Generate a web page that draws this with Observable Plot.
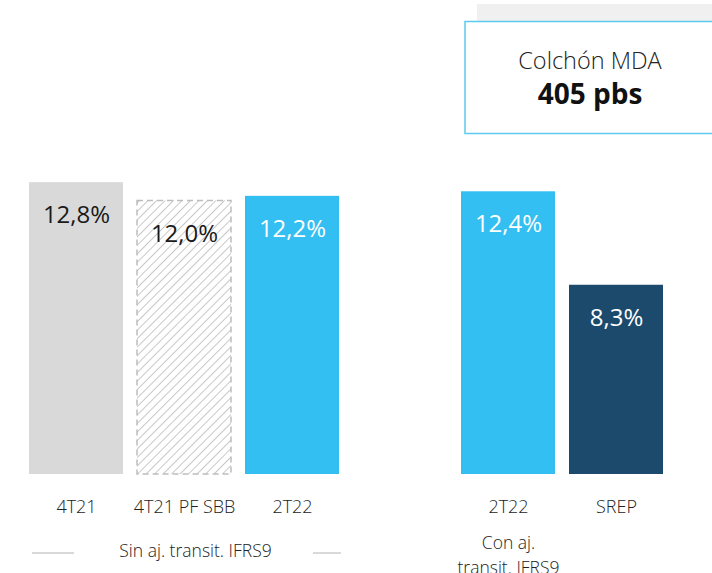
<!DOCTYPE html>
<html>
<head>
<meta charset="utf-8">
<script src="https://cdn.jsdelivr.net/npm/d3@7"></script>
<script src="https://cdn.jsdelivr.net/npm/@observablehq/plot@0.6"></script>
<style>
  body { margin: 0; background: #fff; }
  #chart { position: relative; width: 712px; height: 573px; }
  svg { display: block; }
</style>
</head>
<body>
<div id="chart"></div>
<script>
// ---- data ----
const slots = ["4T21", "4T21 PF SBB", "2T22 sin", "gap", "2T22 con", "SREP"];
const keys = ["4T21", "4T21 PF SBB", "2T22 sin", "2T22 con", "SREP"];
const labels = ["4T21", "4T21 PF SBB", "2T22", "2T22", "SREP"];
const values = [12.8, 12.0, 12.2, 12.4, 8.3];
const valueLabels = ["12,8%", "12,0%", "12,2%", "12,4%", "8,3%"];
const fills = ["#d9d9d9", "url(#hatch)", "#33bff2", "#33bff2", "#1c4a6d"];
const textColors = ["#1a1a1a", "#1a1a1a", "#ffffff", "#ffffff", "#ffffff"];
const textWeights = [400, 400, 600, 600, 600];
const groupSin = "Sin aj. transit. IFRS9";
const groupCon = ["Con aj.", "transit. IFRS9"];
const boxTitle = "Colchón MDA";
const boxValue = "405 pbs";

const data = keys.map((k, i) => ({
  key: k, label: labels[i], value: values[i], vlabel: valueLabels[i],
  fill: fills[i], tcolor: textColors[i], tweight: textWeights[i]
}));

const font = "'Open Sans', 'Noto Sans', sans-serif";

const plot = Plot.plot({
  width: 712,
  height: 573,
  margin: 0,
  style: { fontFamily: font, background: "transparent" },
  x: { domain: slots, range: [27, 666], paddingInner: 0.127, paddingOuter: 0, axis: null },
  y: { domain: [0, 20], range: [474, 18], axis: null },
  marks: [
    Plot.barY(data, { x: "key", y: "value", fill: d => d.fill,
      stroke: d => d.key === "4T21 PF SBB" ? "#bdbdbd" : "none",
      strokeDasharray: "6,4", strokeWidth: 1.5, inset: 0 }),
    Plot.text(data, { x: "key", y: "value", text: "vlabel", dy: 33,
      fill: d => d.tcolor, fontSize: 24, fontWeight: d => d.tweight }),
    Plot.text(data, { x: "key", y: 0, text: "label", dy: 33,
      fill: "#222", fontSize: 18, fontWeight: 300 }),
    Plot.text([groupSin], { x: () => "4T21 PF SBB", y: 0, text: d => d, dy: 77, dx: 11,
      fill: "#222", fontSize: 17.5, fontWeight: 300 }),
    Plot.text([groupCon.join("\n")], { x: () => "2T22 con", y: 0, text: d => d, dy: 79,
      lineHeight: 1.4, fill: "#222", fontSize: 17.5, fontWeight: 300 })
  ]
});

// pattern for hatched bar
const svg = d3.select(plot);
const defs = svg.insert("defs", ":first-child");
const pat = defs.append("pattern").attr("id", "hatch").attr("patternUnits", "userSpaceOnUse")
  .attr("width", 6).attr("height", 6).attr("patternTransform", "rotate(45)");
pat.append("rect").attr("width", 6).attr("height", 6).attr("fill", "#ffffff");
pat.append("line").attr("x1", 0).attr("y1", 0).attr("x2", 0).attr("y2", 6)
  .attr("stroke", "#c8c8c8").attr("stroke-width", 2);

// group separator lines
const g = svg.append("g").attr("stroke", "#d9d9d9").attr("stroke-width", 2);
g.append("line").attr("x1", 32).attr("x2", 74).attr("y1", 553).attr("y2", 553);
g.append("line").attr("x1", 313).attr("x2", 341).attr("y1", 553).attr("y2", 553);

// MDA box
const box = svg.insert("g", ":first-child");
box.append("rect").attr("x", 477).attr("y", 4).attr("width", 240).attr("height", 120).attr("fill", "#f0f0f0");
box.append("rect").attr("x", 465).attr("y", 21.5).attr("width", 260).attr("height", 112)
  .attr("fill", "#ffffff").attr("stroke", "#5ccaf0").attr("stroke-width", 1.5);
box.append("text").attr("x", 590).attr("y", 63).attr("text-anchor", "middle").attr("dominant-baseline", "middle")
  .attr("font-family", font).attr("font-size", 23.5).attr("font-weight", 300).attr("fill", "#222").text(boxTitle);
box.append("text").attr("x", 590).attr("y", 97).attr("text-anchor", "middle").attr("dominant-baseline", "middle")
  .attr("font-family", font).attr("font-size", 28).attr("font-weight", 700).attr("fill", "#111").text(boxValue);

document.getElementById("chart").appendChild(plot);
</script>
</body>
</html>
